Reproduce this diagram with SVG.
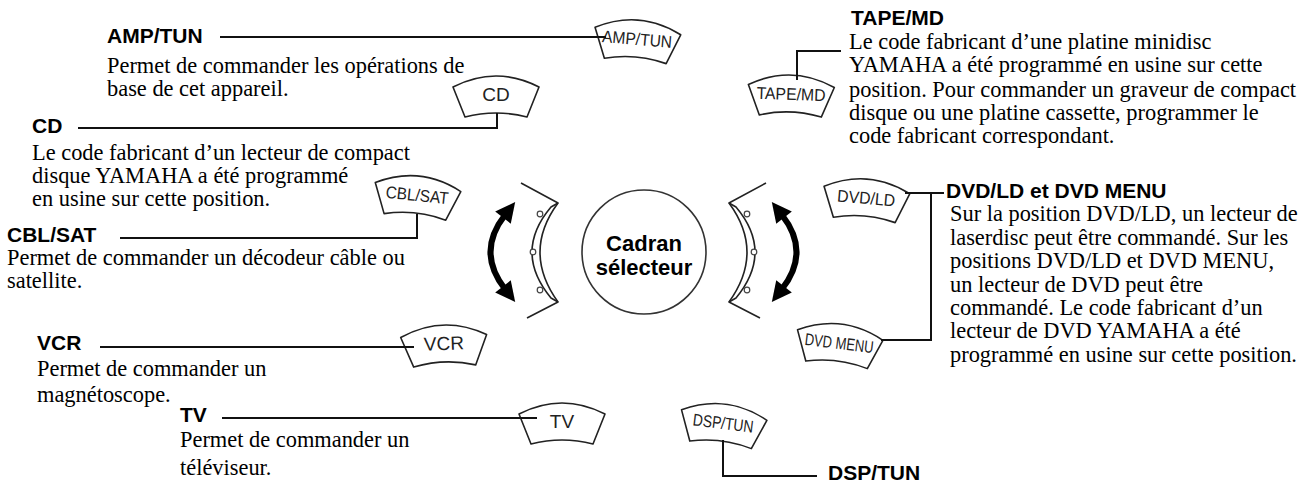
<svg xmlns="http://www.w3.org/2000/svg" xmlns:xlink="http://www.w3.org/1999/xlink" width="1306" height="485" viewBox="0 0 1306 485">
<style>
.btn{fill:#fff;stroke:#222;stroke-width:1.6;stroke-linejoin:round}
.btxt{font-family:"Liberation Sans",Arial,sans-serif;font-size:17px;fill:#222;text-anchor:middle}
.big{font-size:19px}
.title{font-family:"Liberation Sans",Arial,sans-serif;font-weight:bold;font-size:21px;fill:#000}
.body{font-family:"Liberation Serif","Times New Roman",serif;font-size:22.4px;fill:#000}
.conn{fill:none;stroke:#111;stroke-width:2}
.brk{fill:none;stroke:#222;stroke-width:1.6;stroke-linejoin:round}
.bump{fill:#fff;stroke:#444;stroke-width:1.2}
.arr{fill:none;stroke:#000;stroke-width:6}
.dial{fill:#fff;stroke:#333;stroke-width:1.6}
.dtxt{font-family:"Liberation Sans",Arial,sans-serif;font-weight:bold;font-size:22px;fill:#000;text-anchor:middle}
</style>
<defs>
<path id="btnShape" d="M -43,-10 Q 0,-32 43,-10 L 31,20 Q 0,12 -31,20 Z"/>
<marker id="ah" markerUnits="userSpaceOnUse" markerWidth="22" markerHeight="22" viewBox="0 -10 18 20" refX="3" refY="0" orient="auto-start-reverse">
<path d="M0,-9 L18,0 L0,9 Z" fill="#000"/>
</marker>
</defs>
<rect width="1306" height="485" fill="#fff"/>

<g id="dial">
<circle class="dial" cx="644" cy="252" r="62"/>
<text class="dtxt" x="644" y="251">Cadran</text>
<text class="dtxt" x="644" y="275">sélecteur</text>
</g>

<g id="left-bracket">
<path class="brk" d="M 521,183 L 558,203 Q 522,252 558,302 L 527,318"/>
<path class="brk" d="M 558,203 L 551,207 Q 513,252 551,298 L 558,302"/>
<circle class="bump" cx="540" cy="214" r="2.8"/>
<circle class="bump" cx="533" cy="252" r="2.8"/>
<circle class="bump" cx="540" cy="290" r="2.8"/>
<path class="arr" d="M 505,215 Q 476,252 505,289" marker-start="url(#ah)" marker-end="url(#ah)"/>
</g>
<g id="right-bracket">
<path class="brk" d="M 766,183 L 729,203 Q 765,252 729,302 L 760,318"/>
<path class="brk" d="M 729,203 L 736,207 Q 774,252 736,298 L 729,302"/>
<circle class="bump" cx="747" cy="214" r="2.8"/>
<circle class="bump" cx="754" cy="252" r="2.8"/>
<circle class="bump" cx="747" cy="290" r="2.8"/>
<path class="arr" d="M 782,215 Q 811,252 782,289" marker-start="url(#ah)" marker-end="url(#ah)"/>
</g>

<g id="btn-amptun" transform="translate(637,41) rotate(5)"><use xlink:href="#btnShape" class="btn"/><text class="btxt" x="0" y="4" textLength="70" lengthAdjust="spacingAndGlyphs">AMP/TUN</text></g>
<g id="btn-cd" transform="translate(496,97)"><use xlink:href="#btnShape" class="btn"/><text class="btxt big" x="0" y="4">CD</text></g>
<g id="btn-cblsat" transform="translate(417,197) rotate(6)"><use xlink:href="#btnShape" class="btn"/><text class="btxt" x="0" y="4" textLength="63" lengthAdjust="spacingAndGlyphs">CBL/SAT</text></g>
<g id="btn-tapemd" transform="translate(791,96) rotate(2)"><use xlink:href="#btnShape" class="btn"/><text class="btxt" x="0" y="4" textLength="69" lengthAdjust="spacingAndGlyphs">TAPE/MD</text></g>
<g id="btn-dvdld" transform="translate(866,200) rotate(5)"><use xlink:href="#btnShape" class="btn"/><text class="btxt" x="0" y="4" textLength="58" lengthAdjust="spacingAndGlyphs">DVD/LD</text></g>
<g id="btn-dvdmenu" transform="translate(839,345) rotate(7)"><use xlink:href="#btnShape" class="btn"/><text class="btxt" x="0" y="4" textLength="69" lengthAdjust="spacingAndGlyphs">DVD MENU</text></g>
<g id="btn-vcr" transform="translate(444,346) rotate(-2)"><use xlink:href="#btnShape" class="btn"/><text class="btxt big" x="0" y="4">VCR</text></g>
<g id="btn-tv" transform="translate(562,424)"><use xlink:href="#btnShape" class="btn"/><text class="btxt big" x="0" y="4">TV</text></g>
<g id="btn-dsptun" transform="translate(723,425) rotate(7)"><use xlink:href="#btnShape" class="btn"/><text class="btxt" x="0" y="4" textLength="61" lengthAdjust="spacingAndGlyphs">DSP/TUN</text></g>

<g id="label-amptun">
<text class="title" x="107" y="43">AMP/TUN</text>
<text class="body" x="107" y="73">Permet de commander les opérations de</text>
<text class="body" x="107" y="96">base de cet appareil.</text>
</g>
<g id="label-cd">
<text class="title" x="32" y="133">CD</text>
<text class="body" x="32" y="160">Le code fabricant d’un lecteur de compact</text>
<text class="body" x="32" y="183">disque YAMAHA a été programmé</text>
<text class="body" x="32" y="206">en usine sur cette position.</text>
</g>
<g id="label-cblsat">
<text class="title" x="7" y="242">CBL/SAT</text>
<text class="body" x="7" y="265">Permet de commander un décodeur câble ou</text>
<text class="body" x="7" y="288">satellite.</text>
</g>
<g id="label-vcr">
<text class="title" x="37" y="350">VCR</text>
<text class="body" x="37" y="376">Permet de commander un</text>
<text class="body" x="37" y="402">magnétoscope.</text>
</g>
<g id="label-tv">
<text class="title" x="180" y="422">TV</text>
<text class="body" x="180" y="447">Permet de commander un</text>
<text class="body" x="180" y="475">téléviseur.</text>
</g>
<g id="label-tapemd">
<text class="title" x="851" y="25">TAPE/MD</text>
<text class="body" x="849" y="49">Le code fabricant d’une platine minidisc</text>
<text class="body" x="849" y="72">YAMAHA a été programmé en usine sur cette</text>
<text class="body" x="849" y="97">position. Pour commander un graveur de compact</text>
<text class="body" x="849" y="120">disque ou une platine cassette, programmer le</text>
<text class="body" x="849" y="143">code fabricant correspondant.</text>
</g>
<g id="label-dvd">
<text class="title" x="946" y="198">DVD/LD et DVD MENU</text>
<text class="body" x="950" y="221">Sur la position DVD/LD, un lecteur de</text>
<text class="body" x="950" y="245">laserdisc peut être commandé. Sur les</text>
<text class="body" x="950" y="268">positions DVD/LD et DVD MENU,</text>
<text class="body" x="950" y="292">un lecteur de DVD peut être</text>
<text class="body" x="950" y="315">commandé. Le code fabricant d’un</text>
<text class="body" x="950" y="338">lecteur de DVD YAMAHA a été</text>
<text class="body" x="950" y="362">programmé en usine sur cette position.</text>
</g>
<g id="label-dsptun">
<text class="title" x="828" y="480">DSP/TUN</text>
</g>

<g id="connectors">
<path class="conn" d="M 220,37 H 606"/>
<path class="conn" d="M 78,128 H 497 V 113"/>
<path class="conn" d="M 120,238 H 417 V 214"/>
<path class="conn" d="M 100,347 H 414"/>
<path class="conn" d="M 222,418 H 537"/>
<path class="conn" d="M 797,80 V 51 H 841"/>
<path class="conn" d="M 905,193 H 944"/>
<path class="conn" d="M 881,340 H 931 V 193"/>
<path class="conn" d="M 723,440 V 476 H 817"/>
</g>
</svg>
